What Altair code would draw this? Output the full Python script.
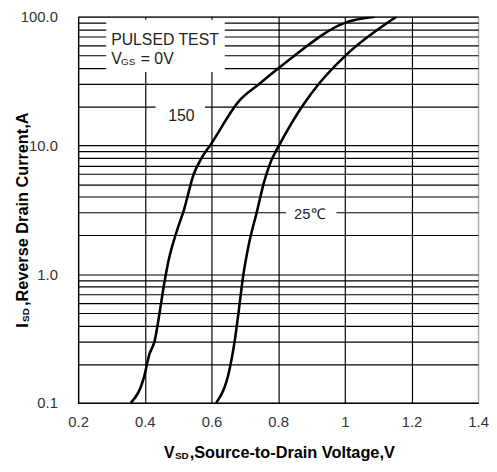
import altair as alt
import pandas as pd

# ---- data ----
v150 = [0.358, 0.398, 0.413, 0.430, 0.443, 0.457, 0.472, 0.497, 0.517, 0.547, 0.571, 0.598, 0.685, 0.745, 0.799, 0.843, 1.002, 1.09]
i150 = [0.1, 0.16, 0.235, 0.306, 0.476, 0.81, 1.30, 2.2, 3.13, 6.0, 8.04, 10.2, 22.5, 30.3, 39.4, 48.5, 90, 100]
v25 = [0.614, 0.655, 0.670, 0.680, 0.695, 0.715, 0.735, 0.759, 0.779, 0.80, 0.878, 0.923, 1.002, 1.155]
i25 = [0.1, 0.186, 0.306, 0.476, 0.964, 1.85, 2.96, 5.33, 7.59, 9.7, 21.2, 30.3, 49.9, 100]

x_ticks = [0.2, 0.4, 0.6, 0.8, 1.0, 1.2, 1.4]
y_grid = [0.1, 0.2, 0.3, 0.4, 0.5, 0.6, 0.7, 0.8, 0.9,
          1, 2, 3, 4, 5, 6, 7, 8, 9,
          10, 20, 30, 40, 50, 60, 70, 80, 90, 100]
y_labels = [0.1, 1, 10, 100]

# label backgrounds (data coordinates)
box_x = [0.2844, 0.4326, 0.8237]
box_x2 = [0.640, 0.5807, 0.975]
box_y = [94.8, 25.2, 3.74]
box_y2 = [37.2, 12.9, 2.40]

FONT = "Liberation Sans"

curves = pd.DataFrame({
    "v": v150 + v25,
    "i": i150 + i25,
    "s": ["150"] * len(v150) + ["25"] * len(v25),
    "o": list(range(len(v150))) + list(range(len(v25))),
})
boxes = pd.DataFrame({"x": box_x, "x2": box_x2, "y": box_y, "y2": box_y2})

xscale = alt.Scale(type="linear", domain=[0.2, 1.4], nice=False, zero=False)
yscale = alt.Scale(type="log", domain=[0.1, 100], nice=False)

xaxis = alt.Axis(values=x_ticks, title=None, grid=True,
                 gridColor=alt.condition("datum.value > 1.39", alt.value("#aaaaaa"), alt.value("black")),
                 gridWidth=1.2, ticks=False, domainColor="black", domainWidth=1.2,
                 labelExpr="datum.value == 1 ? '1' : format(datum.value, '.1f')",
                 labelFont=FONT, labelFontSize=15, labelColor="#333333",
                 labelPadding=12, labelFlush=False, labelOverlap=False, labelBound=False)
yaxis = alt.Axis(values=y_grid, title=None, grid=True, gridColor="black", gridWidth=1.2,
                 ticks=False, domainColor="black", domainWidth=1.2,
                 labelExpr="indexof([0.1, 1, 10, 100], datum.value) >= 0 ? format(datum.value, '.1f') : ''",
                 labelFont=FONT, labelFontSize=15, labelColor="#333333",
                 labelPadding=21, labelFlush=False, labelOverlap=False, labelBound=False)

base_lines = alt.Chart(curves).mark_line(color="black", strokeWidth=2.6, interpolate="monotone", clip=True).encode(
    x=alt.X("v:Q", scale=xscale, axis=xaxis),
    y=alt.Y("i:Q", scale=yscale, axis=yaxis),
    detail="s:N",
    order="o:Q",
)

rects = alt.Chart(boxes).mark_rect(fill="white", stroke=None).encode(
    x=alt.X("x:Q", scale=xscale), x2="x2:Q",
    y=alt.Y("y:Q", scale=yscale), y2="y2:Q",
)

# annotation texts (data coordinates)
ann = pd.DataFrame({
    "x": [0.299, 0.299, 0.299, 0.299, 0.5096, 0.895],
    "y": [59.9, 42.8, 42.8, 42.8, 16.8, 2.94],
    "t": ["PULSED TEST", "V", "GS", "= 0V", "150", "25\u2103"],
    "size": [16, 16, 10, 16, 16, 15],
    "dx": [0, 0, 10, 30, 0, 0],
    "dy": [0, 0, 1, 0, 0, 0],
    "al": ["left", "left", "left", "left", "center", "center"],
    "bl": ["alphabetic", "alphabetic", "alphabetic", "alphabetic", "middle", "middle"],
})

def ann_text(idx):
    r = ann.iloc[idx]
    return alt.Chart(ann.iloc[[idx]]).mark_text(
        font=FONT, fontSize=int(r["size"]), color="#222222",
        align=r["al"], baseline=r["bl"], dx=int(r["dx"]), dy=int(r["dy"]),
    ).encode(x=alt.X("x:Q", scale=xscale), y=alt.Y("y:Q", scale=yscale), text="t:N")

ann_layers = [ann_text(k) for k in range(len(ann))]

one = pd.DataFrame({"k": [0]})

def ptext(txt, x, y, size, angle=0, bold=True):
    kw = dict(text=txt, font=FONT, fontSize=size, fontWeight="bold" if bold else "normal",
              color="black", align="left", baseline="alphabetic")
    if angle:
        kw["angle"] = angle
    return alt.Chart(one).mark_text(**kw).encode(x=alt.value(x), y=alt.value(y))

titles = [
    ptext("V", 87, 447, 16),
    ptext("SD", 98, 448, 10),
    ptext(",Source-to-Drain Voltage,V", 113, 447, 16.5),
    ptext("I", -50.5, 315, 16.5, angle=270),
    ptext("SD", -49.5, 309, 10, angle=270),
    ptext(",Reverse Drain Current,A", -50.5, 293, 16.5, angle=270),
]

chart = alt.layer(rects, *ann_layers, base_lines, *titles).properties(
    width=405, height=391,
    autosize=alt.AutoSizeParams(type="none"),
    padding={"left": 71, "top": 6, "right": 11, "bottom": 57},
).configure_view(stroke="#aaaaaa", strokeWidth=1.2)

chart.save("out.html", embed_options={"renderer": "svg", "actions": False})
